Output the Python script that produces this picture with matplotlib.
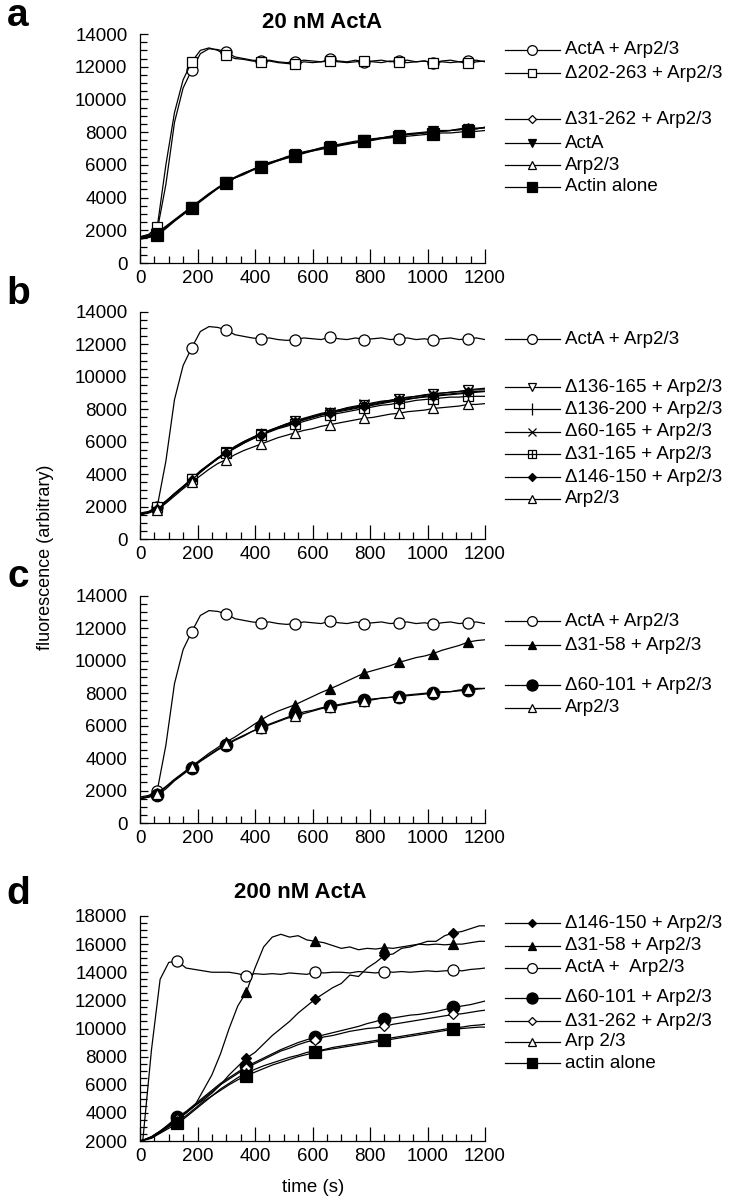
import numpy as np
import matplotlib
matplotlib.use('Agg')
import matplotlib.pyplot as plt
from matplotlib.lines import Line2D
from matplotlib.ticker import MultipleLocator

plt.rcParams['font.family'] = ['Liberation Sans', 'DejaVu Sans']

# time grids (s)
t_abc = np.arange(0, 1201, 30)
t_d = np.concatenate(([0], np.arange(10, 1200, 30), [1200]))

# ---- panel a: 20 nM ActA ----
a_acta_arp = [1600, 1700, 2000, 4800, 8600, 10700, 11800, 12800, 13100, 13050,
              12900, 12600, 12500, 12400, 12350, 12400, 12300, 12250, 12300, 12400,
              12350, 12300, 12450, 12350, 12300, 12400, 12300, 12350, 12400, 12300,
              12350, 12400, 12300, 12350, 12250, 12350, 12400, 12300, 12350, 12400, 12300]
a_d202 = [1600, 1750, 2200, 6000, 9200, 11200, 12300, 13000, 13150, 13000,
          12700, 12500, 12450, 12350, 12300, 12350, 12250, 12200, 12150, 12300,
          12250, 12300, 12350, 12300, 12250, 12300, 12350, 12300, 12250, 12350,
          12300, 12250, 12300, 12350, 12200, 12300, 12250, 12300, 12200, 12300, 12350]
a_d31_262 = [1500, 1600, 1800, 2200, 2600, 3000, 3400, 3800, 4200, 4600,
             4900, 5200, 5450, 5700, 5900, 6100, 6300, 6450, 6600, 6750,
             6900, 7000, 7100, 7200, 7300, 7400, 7500, 7550, 7650, 7700,
             7800, 7850, 7900, 7950, 8000, 8050, 8100, 8150, 8200, 8250, 8250]
a_acta = [1550, 1650, 1850, 2250, 2650, 3050, 3450, 3850, 4250, 4600,
          4950, 5250, 5500, 5700, 5950, 6150, 6300, 6500, 6650, 6800,
          6900, 7050, 7150, 7250, 7350, 7450, 7500, 7600, 7650, 7750,
          7850, 7900, 7950, 8000, 8050, 8100, 8100, 8150, 8200, 8200, 8300]
a_arp = [1500, 1600, 1750, 2150, 2600, 3000, 3400, 3800, 4200, 4550,
         4900, 5200, 5450, 5700, 5900, 6100, 6250, 6450, 6600, 6750,
         6850, 7000, 7100, 7200, 7300, 7350, 7450, 7550, 7650, 7700,
         7800, 7850, 7900, 7950, 8000, 8050, 8100, 8200, 8250, 8200, 8300]
a_actin = [1450, 1550, 1700, 2100, 2550, 2950, 3350, 3750, 4150, 4550,
           4900, 5200, 5400, 5650, 5850, 6050, 6250, 6400, 6550, 6700,
           6850, 6950, 7050, 7150, 7250, 7350, 7450, 7500, 7600, 7650,
           7700, 7750, 7800, 7850, 7900, 7950, 7950, 8000, 8050, 8050, 8100]

# ---- panel b ----
b_d136_165 = [1500, 1650, 1900, 2300, 2800, 3200, 3700, 4200, 4600, 5000,
              5350, 5700, 6000, 6250, 6500, 6700, 6900, 7100, 7250, 7400,
              7550, 7700, 7800, 7950, 8050, 8150, 8250, 8350, 8450, 8550,
              8650, 8700, 8800, 8850, 8950, 9000, 9050, 9100, 9200, 9250, 9300]
b_d136_200 = [1500, 1650, 1900, 2300, 2750, 3200, 3650, 4150, 4550, 4950,
              5300, 5650, 5950, 6200, 6450, 6650, 6850, 7050, 7200, 7350,
              7500, 7650, 7750, 7850, 7950, 8050, 8150, 8250, 8350, 8450,
              8550, 8600, 8700, 8750, 8800, 8850, 8900, 8950, 9000, 9050, 9100]
b_d60_165 = [1500, 1650, 1900, 2300, 2800, 3250, 3700, 4200, 4600, 5000,
             5350, 5700, 6000, 6250, 6500, 6700, 6900, 7100, 7300, 7450,
             7600, 7750, 7850, 7950, 8100, 8200, 8300, 8400, 8500, 8550,
             8650, 8750, 8800, 8900, 8950, 9000, 9050, 9100, 9150, 9200, 9200]
b_d31_165 = [1500, 1650, 1950, 2350, 2800, 3250, 3700, 4150, 4550, 4950,
             5300, 5600, 5900, 6150, 6400, 6600, 6800, 6950, 7100, 7250,
             7400, 7550, 7650, 7750, 7850, 7950, 8050, 8150, 8250, 8300,
             8400, 8450, 8550, 8600, 8650, 8700, 8750, 8750, 8800, 8800, 8800]
b_d146_150 = [1500, 1650, 1850, 2250, 2750, 3200, 3650, 4100, 4550, 4950,
              5300, 5600, 5900, 6200, 6400, 6650, 6850, 7000, 7200, 7350,
              7500, 7650, 7750, 7900, 8000, 8100, 8200, 8300, 8400, 8500,
              8550, 8650, 8700, 8800, 8850, 8900, 8950, 9000, 9050, 9100, 9100]
b_arp = [1500, 1600, 1800, 2200, 2650, 3100, 3500, 3900, 4300, 4650,
         4900, 5200, 5450, 5650, 5850, 6050, 6250, 6400, 6550, 6700,
         6800, 6950, 7050, 7150, 7250, 7350, 7450, 7500, 7600, 7700,
         7750, 7850, 7900, 7950, 8050, 8100, 8150, 8200, 8300, 8300, 8350]

# ---- panel c ----
c_d31_58 = [1500, 1650, 1850, 2250, 2700, 3100, 3500, 3900, 4300, 4650,
            5000, 5300, 5650, 6000, 6350, 6650, 6900, 7100, 7300, 7550,
            7800, 8050, 8270, 8500, 8750, 9000, 9250, 9400, 9550, 9700,
            9900, 10050, 10200, 10300, 10450, 10650, 10800, 10950, 11150, 11250, 11300]
c_d60_101 = [1500, 1600, 1700, 2100, 2600, 3000, 3400, 3800, 4150, 4500,
             4800, 5100, 5350, 5650, 5900, 6100, 6300, 6500, 6700, 6850,
             6950, 7100, 7200, 7300, 7400, 7500, 7600, 7650, 7700, 7750,
             7800, 7850, 7900, 7950, 8000, 8050, 8100, 8150, 8200, 8250, 8300]
c_arp = [1500, 1600, 1800, 2200, 2650, 3050, 3450, 3850, 4200, 4550,
         4850, 5150, 5400, 5650, 5850, 6050, 6250, 6450, 6600, 6750,
         6900, 7050, 7150, 7250, 7350, 7450, 7550, 7600, 7700, 7750,
         7800, 7900, 7950, 8000, 8050, 8100, 8100, 8200, 8250, 8300, 8300]

# ---- panel d: 200 nM ActA ----
d_d146_150 = [2000, 2050, 2300, 2700, 3100, 3500, 4000, 4500, 4900, 5400,
              6000, 6700, 7300, 7900, 8300, 8900, 9500, 10000, 10500, 11100,
              11600, 12100, 12500, 12900, 13200, 13800, 13700, 14300, 14700, 15200,
              15300, 15700, 15800, 16000, 16200, 16200, 16600, 16800, 16900, 17100,
              17300, 17300]
d_d31_58 = [2000, 2050, 2300, 2700, 3100, 3500, 4000, 4500, 5600, 6700,
            8200, 10000, 11600, 12600, 14300, 15800, 16500, 16700, 16500, 16600,
            16300, 16200, 16100, 15900, 15700, 15800, 15600, 15700, 15650, 15750,
            15700, 15800, 15900, 16000, 15950, 16000, 15950, 16000, 16000, 16100,
            16200, 16200]
d_acta_arp = [2000, 2100, 8500, 13500, 14700, 14800, 14300, 14200, 14100, 14000,
              14000, 14000, 13900, 13750, 13900, 13850, 13900, 13850, 13950, 13900,
              13850, 14000, 13950, 14000, 14000, 13950, 14050, 14000, 13950, 14050,
              14000, 14050, 14000, 14050, 14100, 14050, 14100, 14150, 14100, 14200,
              14250, 14300]
d_d60_101 = [2000, 2050, 2300, 2700, 3200, 3700, 4100, 4600, 5100, 5600,
             6100, 6500, 6900, 7300, 7600, 7900, 8200, 8500, 8750, 9000,
             9200, 9400, 9550, 9700, 9850, 10000, 10150, 10350, 10500, 10700,
             10750, 10850, 10950, 11000, 11100, 11200, 11350, 11500, 11600, 11700,
             11850, 11950]
d_d31_262 = [2000, 2050, 2250, 2650, 3100, 3600, 4000, 4500, 5000, 5500,
             6000, 6400, 6800, 7200, 7500, 7800, 8100, 8400, 8600, 8850,
             9050, 9200, 9400, 9500, 9650, 9800, 9900, 10000, 10050, 10150,
             10300, 10400, 10500, 10600, 10700, 10800, 10900, 11000, 11050, 11150,
             11250, 11300]
d_arp = [2000, 2050, 2200, 2600, 3000, 3400, 3800, 4300, 4800, 5200,
         5700, 6100, 6500, 6850, 7100, 7350, 7550, 7750, 7950, 8100,
         8300, 8400, 8500, 8650, 8750, 8850, 8950, 9050, 9150, 9250,
         9350, 9450, 9550, 9650, 9750, 9850, 9950, 10050, 10100, 10200,
         10250, 10300]
d_actin = [2000, 2050, 2200, 2550, 2900, 3250, 3700, 4200, 4700, 5200,
           5600, 6000, 6350, 6650, 6900, 7150, 7400, 7600, 7800, 8000,
           8150, 8300, 8450, 8550, 8650, 8750, 8850, 8950, 9050, 9150,
           9250, 9350, 9450, 9550, 9650, 9750, 9850, 9950, 10000, 10050,
           10100, 10100]

W, H = 756, 1200
fig = plt.figure(figsize=(W / 100, H / 100), dpi=100)


def box(l, t, r, b):
    return [l / W, 1 - b / H, (r - l) / W, (b - t) / H]


def setup(ax, ylim):
    ax.set_xlim(0, 1200)
    ax.set_ylim(*ylim)
    for s in ('top', 'right'):
        ax.spines[s].set_visible(False)
    for s in ('left', 'bottom'):
        ax.spines[s].set_linewidth(0.9)
    ax.xaxis.set_major_locator(MultipleLocator(200))
    ax.xaxis.set_minor_locator(MultipleLocator(50))
    ax.yaxis.set_major_locator(MultipleLocator(2000))
    ax.yaxis.set_minor_locator(MultipleLocator(500))
    ax.tick_params(which='both', direction='in', width=0.9, labelsize=13.5)
    ax.tick_params(axis='x', which='major', length=10, pad=5)
    ax.tick_params(axis='x', which='minor', length=5)
    ax.tick_params(axis='y', which='major', length=6, pad=9)
    ax.tick_params(axis='y', which='minor', length=5)


def mstyle(marker, filled, ms):
    return dict(marker=marker, ms=ms, mec='black', mew=0.9,
                mfc='black' if filled else 'white')


def curve(ax, t, y, marker, filled, ms, every):
    if marker == 'sq+':
        ax.plot(t, y, color='black', lw=0.9, markevery=every, **mstyle('s', False, ms))
        ax.plot(t, y, ls='none', markevery=every, **mstyle('+', False, ms))
    else:
        ax.plot(t, y, color='black', lw=0.9, markevery=every, **mstyle(marker, filled, ms))


def legend_row(label, y, marker, filled, ms):
    yf = 1 - y / H
    fig.add_artist(Line2D([505 / W, 560 / W], [yf, yf], color='black', lw=0.9))
    if marker == 'sq+':
        fig.add_artist(Line2D([532 / W], [yf], **mstyle('s', False, ms)))
        fig.add_artist(Line2D([532 / W], [yf], **mstyle('+', False, ms)))
    else:
        fig.add_artist(Line2D([532 / W], [yf], **mstyle(marker, filled, ms)))
    fig.text(565 / W, yf, label, ha='left', va='center', fontsize=13.5)


ev = (2, 4)
panels = [
    ('a', box(140, 34, 485, 263), (0, 14000), t_abc, ev, [
        ('ActA + Arp2/3', a_acta_arp, 'o', False, 8, 50),
        ('Δ202-263 + Arp2/3', a_d202, 's', False, 7, 73),
        ('Δ31-262 + Arp2/3', a_d31_262, 'D', False, 5, 119),
        ('ActA', a_acta, 'v', True, 7, 143),
        ('Arp2/3', a_arp, '^', False, 7, 165),
        ('Actin alone', a_actin, 's', True, 8, 187),
    ]),
    ('b', box(140, 312, 485, 539), (0, 14000), t_abc, ev, [
        ('ActA + Arp2/3', a_acta_arp, 'o', False, 8, 339),
        ('Δ136-165 + Arp2/3', b_d136_165, 'v', False, 7, 387),
        ('Δ136-200 + Arp2/3', b_d136_200, '|', False, 9, 409),
        ('Δ60-165 + Arp2/3', b_d60_165, 'x', False, 7, 432),
        ('Δ31-165 + Arp2/3', b_d31_165, 'sq+', False, 7, 454),
        ('Δ146-150 + Arp2/3', b_d146_150, 'D', True, 5.5, 477),
        ('Arp2/3', b_arp, '^', False, 7, 499),
    ]),
    ('c', box(140, 596, 485, 823), (0, 14000), t_abc, ev, [
        ('ActA + Arp2/3', a_acta_arp, 'o', False, 8, 621),
        ('Δ31-58 + Arp2/3', c_d31_58, '^', True, 7, 645),
        ('Δ60-101 + Arp2/3', c_d60_101, 'o', True, 9, 685),
        ('Arp2/3', c_arp, '^', False, 7, 708),
    ]),
    ('d', box(140, 916, 485, 1141), (2000, 18000), t_d, (5, 8), [
        ('Δ146-150 + Arp2/3', d_d146_150, 'D', True, 5.5, 923),
        ('Δ31-58 + Arp2/3', d_d31_58, '^', True, 7, 946),
        ('ActA +  Arp2/3', d_acta_arp, 'o', False, 8, 968),
        ('Δ60-101 + Arp2/3', d_d60_101, 'o', True, 9, 998),
        ('Δ31-262 + Arp2/3', d_d31_262, 'D', False, 5.5, 1021),
        ('Arp 2/3', d_arp, '^', False, 7, 1042),
        ('actin alone', d_actin, 's', True, 8, 1063),
    ]),
]

for letter, rect, ylim, t, every, series in panels:
    ax = fig.add_axes(rect)
    setup(ax, ylim)
    for label, y, marker, filled, ms, ly in series:
        curve(ax, t, y, marker, filled, ms, every)
        legend_row(label, ly, marker, filled, ms - 1)

# panel letters and titles
for letter, ypx in (('a', 16), ('b', 294), ('c', 577), ('d', 894)):
    fig.text(18 / W, 1 - ypx / H, letter, ha='center', va='center',
             fontsize=28, fontweight='bold')
fig.text(322 / W, 1 - 23 / H, '20 nM ActA', ha='center', va='center',
         fontsize=16, fontweight='bold')
fig.text(300 / W, 1 - 892 / H, '200 nM ActA', ha='center', va='center',
         fontsize=16, fontweight='bold')
fig.text(46 / W, 1 - 557 / H, 'fluorescence (arbitrary)', rotation=90,
         ha='center', va='center', fontsize=13)
fig.text(313 / W, 1 - 1188 / H, 'time (s)', ha='center', va='center', fontsize=13.5)

fig.savefig('out.png', dpi=100)
